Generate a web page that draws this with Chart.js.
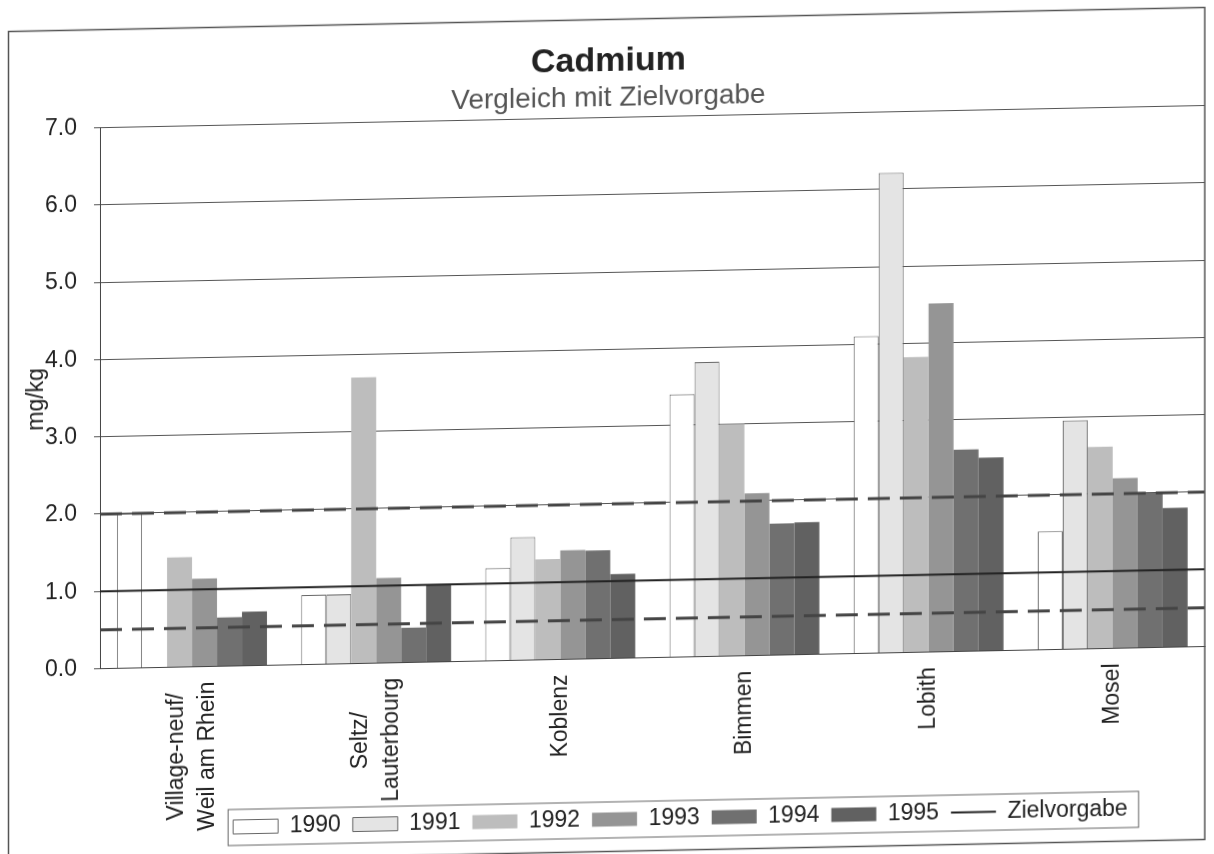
<!DOCTYPE html>
<html lang="de">
<head>
  <meta charset="UTF-8">
  <title>Cadmium - Vergleich mit Zielvorgabe</title>
  <script src="https://cdn.jsdelivr.net/npm/chart.js"></script>
  <style>
    html, body { margin: 0; padding: 0; background: #fff; overflow: hidden; }
    /* die Vorlage ist ein leicht schief eingescanntes Blatt */
    #wrap { width: 1214px; height: 854px; transform: skewY(-1.15deg); }
  </style>
</head>
<body>
<div id="wrap"><canvas id="myChart" width="1214" height="854"></canvas></div>

<script>
  // Messstellen (x-Achse)
  const stations = [['Village-neuf/', 'Weil am Rhein'], ['Seltz/', 'Lauterbourg'], 'Koblenz', 'Bimmen', 'Lobith', 'Mosel'];
  const years = ['1990', '1991', '1992', '1993', '1994', '1995'];

  // Cadmium in mg/kg, gleiche Reihenfolge wie stations
  const cd1990 = [2.0, 0.9, 1.2, 3.4, 4.1, 1.53];
  const cd1991 = [null, 0.9, 1.59, 3.81, 6.21, 2.96];
  const cd1992 = [1.42, 3.7, 1.3, 3.0, 3.82, 2.61];
  const cd1993 = [1.14, 1.1, 1.41, 2.1, 4.51, 2.2];
  const cd1994 = [0.63, 0.45, 1.4, 1.7, 2.61, 2.0];
  const cd1995 = [0.7, 1.0, 1.09, 1.71, 2.5, 1.8];

  const zielvorgabe = 1.0;
  const obereLinie = 2.0;
  const untereLinie = 0.5;

  const yTicks = [0, 1, 2, 3, 4, 5, 6, 7];

  const seriesValues = [cd1990, cd1991, cd1992, cd1993, cd1994, cd1995];
  const barColors = ['#ffffff', '#e4e4e4', '#bdbdbd', '#959595', '#707070', '#616161'];

  const fontFamily = '"Liberation Sans", Arial, sans-serif';
  Chart.defaults.font.family = fontFamily;
  Chart.defaults.color = '#222';

  const datasets = years.map((y, i) => ({
    label: y,
    data: seriesValues[i],
    backgroundColor: barColors[i],
    borderColor: i < 2 ? '#666' : barColors[i],
    borderWidth: i < 2 ? 1 : 0
  }));

  // waagerechte Linien: Zielvorgabe (durchgezogen) und die zwei gestrichelten
  const refLines = [
    {value: zielvorgabe, color: '#222', width: 2, dash: []},
    {value: obereLinie, color: '#444', width: 3, dash: [22, 10]},
    {value: untereLinie, color: '#444', width: 3, dash: [22, 10]}
  ];

  const framePlugin = {
    id: 'frame',
    afterLayout(chart) {
      // Legende sitzt in der Vorlage rechts von der Mitte
      chart.legend.left += 72;
      chart.legend.right += 72;
    },
    afterDatasetsDraw(chart) {
      const ctx = chart.ctx;
      const area = chart.chartArea;
      const y = chart.scales.y;
      ctx.save();
      refLines.forEach(l => {
        const py = y.getPixelForValue(l.value);
        ctx.beginPath();
        ctx.strokeStyle = l.color;
        ctx.lineWidth = l.width;
        ctx.setLineDash(l.dash);
        ctx.moveTo(area.left, py);
        ctx.lineTo(area.right, py);
        ctx.stroke();
      });
      ctx.restore();
    },
    afterDraw(chart) {
      const ctx = chart.ctx;
      ctx.save();

      // x-Beschriftung senkrecht, Zeilen mittig zueinander
      const xs = chart.scales.x;
      const lineH = 31;
      ctx.font = '23px ' + fontFamily;
      ctx.fillStyle = '#222';
      ctx.textAlign = 'right';
      ctx.textBaseline = 'middle';
      stations.forEach((label, i) => {
        const lines = Array.isArray(label) ? label : [label];
        const widths = lines.map(l => ctx.measureText(l).width);
        const maxW = Math.max(...widths);
        ctx.save();
        ctx.translate(xs.getPixelForTick(i), xs.top + 15);
        ctx.rotate(-Math.PI / 2);
        lines.forEach((l, k) => {
          ctx.fillText(l, -(maxW - widths[k]) / 2, (k - (lines.length - 1) / 2) * lineH);
        });
        ctx.restore();
      });

      ctx.strokeStyle = '#555';
      ctx.lineWidth = 1.5;
      ctx.strokeRect(8.5, 19.5, 1196.5, 832);
      const hb = chart.legend.legendHitBoxes.filter(Boolean);
      if (hb.length) {
        const x1 = Math.min(...hb.map(b => b.left)) - 5;
        const x2 = Math.max(...hb.map(b => b.left + b.width)) + 11;
        const y1 = hb[0].top - 6;
        const y2 = hb[0].top + hb[0].height + 7;
        ctx.lineWidth = 1;
        ctx.strokeStyle = '#666';
        ctx.strokeRect(x1, y1, x2 - x1, y2 - y1);
      }
      ctx.restore();
    }
  };

  const ctx = document.getElementById('myChart').getContext('2d');
  const myChart = new Chart(ctx, {
    type: 'bar',
    data: {
      labels: stations,
      datasets: datasets
    },
    options: {
      responsive: false,
      animation: false,
      devicePixelRatio: 1,
      datasets: {
        bar: { categoryPercentage: 0.814, barPercentage: 1.0 }
      },
      layout: { padding: {top: 8, left: 12, right: 9, bottom: 13} },
      plugins: {
        title: {
          display: true,
          text: 'Cadmium',
          font: {size: 34, weight: 'bold'},
          color: '#222',
          padding: {top: 33, bottom: 0}
        },
        subtitle: {
          display: true,
          text: 'Vergleich mit Zielvorgabe',
          font: {size: 28},
          color: '#555',
          padding: {top: 0, bottom: 2}
        },
        legend: {
          position: 'bottom',
          labels: {
            usePointStyle: true,
            pointStyleWidth: 45,
            boxHeight: 14,
            padding: 12,
            font: {size: 23},
            color: '#222',
            generateLabels: function (chart) {
              const items = Chart.defaults.plugins.legend.labels.generateLabels(chart);
              items.forEach(item => {
                item.pointStyle = 'rect';
                item.lineWidth = item.datasetIndex < 2 ? 1 : 0;
                item.strokeStyle = '#666';
              });
              items.push({
                text: 'Zielvorgabe',
                fillStyle: 'rgba(0,0,0,0)',
                strokeStyle: refLines[0].color,
                lineWidth: 2,
                pointStyle: 'line',
                fontColor: '#222',
                hidden: false,
                datasetIndex: -1
              });
              return items;
            }
          },
          onClick: () => {}
        },
        tooltip: { enabled: false }
      },
      scales: {
        x: {
          grid: { display: false, drawTicks: false },
          border: { display: true, color: '#444' },
          ticks: { display: false },
          afterFit: s => { s.height = 137.5; }
        },
        y: {
          min: 0,
          max: 7,
          afterBuildTicks: s => { s.ticks = yTicks.map(v => ({value: v})); },
          grid: { color: '#555', lineWidth: 1, drawTicks: true, tickLength: 6 },
          border: { color: '#444' },
          ticks: {
            padding: 17,
            font: {size: 23},
            color: '#222',
            callback: v => v.toFixed(1)
          },
          title: {
            display: true,
            text: 'mg/kg',
            font: {size: 23},
            color: '#222',
            padding: {top: 11, bottom: 0}
          },
          afterFit: s => { s.width = 88; }
        }
      }
    },
    plugins: [framePlugin]
  });
</script>
</body>
</html>
